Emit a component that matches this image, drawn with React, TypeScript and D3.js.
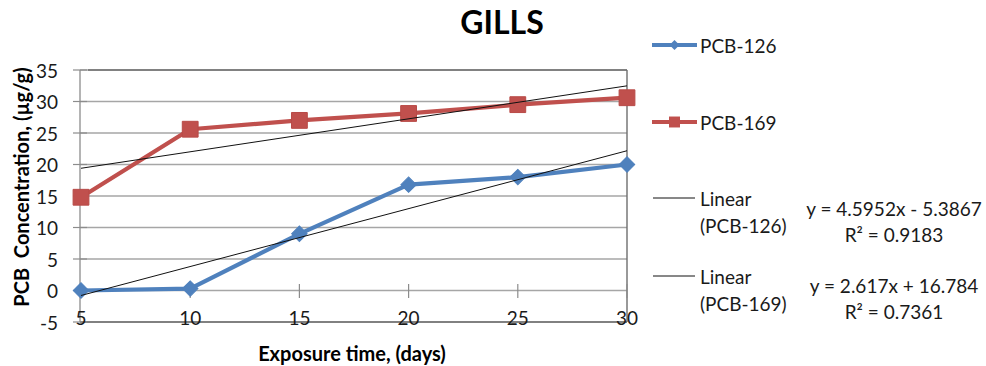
import React from "react";
import * as d3 from "d3";

// Exposure days (category axis) and measured concentrations (µg/g)
const categories = ["5", "10", "15", "20", "25", "30"];
const pcb126 = [0, 0.3, 9.0, 16.8, 18.0, 20.0];
const pcb169 = [14.8, 25.6, 27.0, 28.1, 29.5, 30.6];
const seriesNames = ["PCB-126", "PCB-169"];
// Linear trend coefficients (x = category index starting at 1)
const trendSlopes = [4.5952, 2.617];
const trendIntercepts = [-5.3867, 16.784];
const trendEquations = ["y = 4.5952x - 5.3867", "y = 2.617x + 16.784"];
const trendR2 = ["R² = 0.9183", "R² = 0.7361"];
const yTicks = [-5, 0, 5, 10, 15, 20, 25, 30, 35];

const W = 986;
const H = 366;
const BLUE = "#4F81BD";
const RED = "#C0504D";
const TEXT = "#1a1a1a";
const FONT = "Lato, 'Liberation Sans', Arial, sans-serif";

export default function App() {
  const x = d3.scalePoint<string>().domain(categories).range([81, 627]);
  const y = d3.scaleLinear().domain([-5, 35]).range([322, 70]);

  const line = d3
    .line<number>()
    .x((_, i) => x(categories[i]) as number)
    .y((d) => y(d));

  const diamond = d3.symbol().type(d3.symbolSquare).size(120)() as string;
  const square = d3.symbol().type(d3.symbolSquare).size(250)() as string;
  const legendDiamond = d3.symbol().type(d3.symbolSquare).size(50)() as string;
  const legendSquare = d3.symbol().type(d3.symbolSquare).size(120)() as string;

  const x0 = x(categories[0]) as number;
  const x1 = x(categories[categories.length - 1]) as number;
  const trend = (k: number, idx: number) => trendSlopes[k] * idx + trendIntercepts[k];

  const legendX1 = 652;
  const legendX2 = 697;
  const legendTextX = 700;
  const eqX = 894;

  return (
    <svg
      width={W}
      height={H}
      style={{ position: "absolute", left: 0, top: 0, background: "#fff" }}
      fontFamily={FONT}
    >
      {/* title */}
      <text x={502} y={21} textAnchor="middle" dominantBaseline="central" fontSize={32} fontWeight="bold" fill="#000">
        GILLS
      </text>

      {/* horizontal gridlines */}
      {yTicks.map((t) => (
        <line key={"g" + t} x1={80} x2={x1} y1={y(t)} y2={y(t)} stroke="#a6a6a6" strokeWidth={1.3} />
      ))}
      {/* plot frame */}
      <line x1={88} x2={x1} y1={y(35)} y2={y(35)} stroke="#6e6e6e" strokeWidth={1.4} />
      <line x1={x1} x2={x1} y1={y(35)} y2={y(-5)} stroke="#6e6e6e" strokeWidth={1.4} />
      <line x1={80} x2={x1} y1={y(-5)} y2={y(-5)} stroke="#6e6e6e" strokeWidth={1.6} />

      {/* y axis */}
      <line x1={80} x2={80} y1={y(35)} y2={y(-5)} stroke="#8c8c8c" strokeWidth={1.3} />
      {yTicks.map((t) => (
        <g key={"yt" + t}>
          <line x1={73} x2={87} y1={y(t)} y2={y(t)} stroke="#8c8c8c" strokeWidth={1.2} />
          <text x={58} y={y(t)} textAnchor="end" dominantBaseline="central" fontSize={19} fill={TEXT}>
            {t}
          </text>
        </g>
      ))}

      {/* x axis at zero with crossing tick marks */}
      {categories.map((c) => (
        <line
          key={"xt" + c}
          x1={x(c) as number}
          x2={x(c) as number}
          y1={y(0) - 6.5}
          y2={y(0) + 7.5}
          stroke="#8c8c8c"
          strokeWidth={1.2}
        />
      ))}
      {categories.map((c) => (
        <text key={"xl" + c} x={x(c) as number} y={317} textAnchor="middle" dominantBaseline="central" fontSize={19} fill={TEXT}>
          {c}
        </text>
      ))}

      {/* axis titles */}
      <text x={352} y={353} textAnchor="middle" dominantBaseline="central" fontSize={20} fontWeight="bold" fill="#000">
        Exposure time, (days)
      </text>
      <text
        transform={`translate(21,187) rotate(-90)`}
        textAnchor="middle"
        dominantBaseline="central"
        fontSize={20}
        fontWeight="bold"
        fill="#000"
        style={{ whiteSpace: "pre" }}
      >
        {"PCB  Concentration, (µg/g)"}
      </text>

      {/* series lines */}
      <path d={line(pcb126) as string} fill="none" stroke={BLUE} strokeWidth={4.2} strokeLinejoin="round" />
      <path d={line(pcb169) as string} fill="none" stroke={RED} strokeWidth={4.2} strokeLinejoin="round" />

      {/* markers */}
      {pcb126.map((v, i) => (
        <path
          key={"d" + i}
          d={diamond}
          transform={`translate(${x(categories[i])},${y(v)}) rotate(45)`}
          fill={BLUE}
          stroke={BLUE}
          strokeWidth={1}
        />
      ))}
      {pcb169.map((v, i) => (
        <path key={"s" + i} d={square} transform={`translate(${x(categories[i])},${y(v)})`} fill={RED} stroke="#b84a47" strokeWidth={1} />
      ))}

      {/* linear trendlines */}
      {trendSlopes.map((_, k) => (
        <line
          key={"tr" + k}
          x1={x0}
          x2={x1}
          y1={y(trend(k, 1))}
          y2={y(trend(k, categories.length))}
          stroke="#111"
          strokeWidth={1}
        />
      ))}

      {/* legend: series */}
      <line x1={legendX1} x2={legendX2} y1={45} y2={45} stroke={BLUE} strokeWidth={4.2} />
      <path d={legendDiamond} transform={`translate(${(legendX1 + legendX2) / 2},45) rotate(45)`} fill={BLUE} />
      <text x={legendTextX} y={45} dominantBaseline="central" fontSize={19} fill={TEXT}>
        {seriesNames[0]}
      </text>
      <line x1={legendX1} x2={legendX2} y1={122} y2={122} stroke={RED} strokeWidth={4.2} />
      <path d={legendSquare} transform={`translate(${(legendX1 + legendX2) / 2},122)`} fill={RED} />
      <text x={legendTextX} y={122} dominantBaseline="central" fontSize={19} fill={TEXT}>
        {seriesNames[1]}
      </text>

      {/* legend: trendlines and equations */}
      {[0, 1].map((k) => {
        const base = k === 0 ? 198 : 276;
        const eqBase = k === 0 ? 208 : 285;
        return (
          <g key={"lt" + k}>
            <line x1={653} x2={695} y1={base} y2={base} stroke="#111" strokeWidth={1} />
            <text x={legendTextX} y={base} dominantBaseline="central" fontSize={19} fill={TEXT}>
              Linear
            </text>
            <text x={legendTextX} y={base + 27} dominantBaseline="central" fontSize={19} fill={TEXT}>
              {`(${seriesNames[k]})`}
            </text>
            <text x={eqX} y={eqBase} textAnchor="middle" dominantBaseline="central" fontSize={19} fill={TEXT}>
              {trendEquations[k]}
            </text>
            <text x={eqX} y={eqBase + 26} textAnchor="middle" dominantBaseline="central" fontSize={19} fill={TEXT}>
              {trendR2[k]}
            </text>
          </g>
        );
      })}
    </svg>
  );
}
